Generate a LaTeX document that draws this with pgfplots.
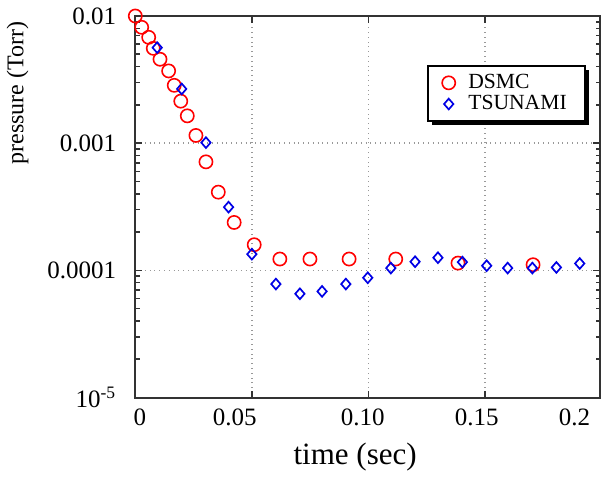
\documentclass[border=0pt]{standalone}
\usepackage{fontspec}
\setmainfont{Liberation Serif}
\usepackage{pgfplots}
\pgfplotsset{compat=1.18}
\usetikzlibrary{shadows}
\begin{document}
\begin{tikzpicture}
\begin{axis}[
  scale only axis, width=232.35pt, height=190.75pt,
  ymode=log, xmin=0, xmax=0.1993, ymin=1e-5, ymax=1e-2,
  clip=false,
  axis line style={line width=1pt, black!80},
  tick style={black!80, line width=0.8pt},
  major tick length=3.5pt, minor tick length=2.2pt,
  xtick={0.05,0.1,0.15}, xticklabels={},
  extra x ticks={0.002,0.0427,0.0976,0.1464,0.1884},
  extra x tick labels={0,0.05,0.10,0.15,0.2},
  extra x tick style={major tick length=0pt, grid=none},
  ytick={1e-5,1e-4,1e-3,1e-2},
  yticklabels={10\textsuperscript{-5},0.0001,0.001,0.01},
  /pgf/number format/assume math mode=true,
  ticklabel style={font=\fontsize{12.5}{14}\selectfont},
  yticklabel style={xshift=-6pt},
  xticklabel style={yshift=-2pt},
  grid=major,
  major grid style={dotted, gray!80, line width=0.8pt},
  xlabel={time (sec)},
  xlabel style={at={(axis description cs:0.473,-0.155)}, anchor=center, font=\fontsize{15.5}{18}\selectfont},
  ylabel={pressure (Torr)},
  ylabel style={at={(axis description cs:-0.2535,0.798)}, anchor=center, font=\fontsize{12}{14}\selectfont},
  legend style={at={(axis description cs:0.628,0.872)}, anchor=north west,
    draw=black, line width=1pt, fill=white,
    drop shadow={shadow xshift=2pt, shadow yshift=-2pt, fill=black, opacity=1},
    font=\fontsize{10.8}{12}\selectfont, inner xsep=7pt, inner ysep=3.2pt,
    row sep=0pt,
    nodes={text height=7.2pt, text depth=1.8pt, inner ysep=0.8pt},
    /tikz/every odd column/.append style={column sep=4.5pt}},
  legend cell align=left,
]
\addplot[only marks, mark=o, mark size=3.3pt, red, line width=0.8pt] coordinates {
(0,0.01) (0.00274,0.00815) (0.00574,0.00680) (0.0077,0.00557) (0.0106,0.00457)
(0.0143,0.00370) (0.0167,0.00285) (0.0195,0.00214) (0.0223,0.00164) (0.0260,0.00115)
(0.0303,0.000713) (0.0356,0.000412) (0.0424,0.000238) (0.0510,0.000159)
(0.0620,0.0001227) (0.0749,0.0001227) (0.0917,0.0001227) (0.1117,0.0001227)
(0.1384,0.000114) (0.1706,0.0001107)
};
\addlegendentry{DSMC}
\addplot[only marks, mark=square, mark size=1.65pt, mark options={yscale=1.15, rotate=45}, blue!90!black, line width=0.85pt] coordinates {
(0.0094,0.00564) (0.0199,0.00267) (0.0303,0.00101) (0.0400,0.000314) (0.0500,0.000134)
(0.0603,0.0000780) (0.0706,0.0000654) (0.0801,0.0000683) (0.0903,0.0000780)
(0.0997,0.0000874) (0.1096,0.0001042) (0.1200,0.0001169) (0.1298,0.0001257)
(0.1403,0.0001161) (0.1507,0.0001087) (0.1597,0.0001042) (0.1703,0.0001042)
(0.1806,0.0001054) (0.1906,0.0001132)
};
\addlegendentry{TSUNAMI}
\end{axis}
\pgfresetboundingbox
\path ([shift={(-67.65pt,-41.75pt)}]current axis.south west) rectangle ([shift={(1pt,8pt)}]current axis.north east);
\end{tikzpicture}
\end{document}
